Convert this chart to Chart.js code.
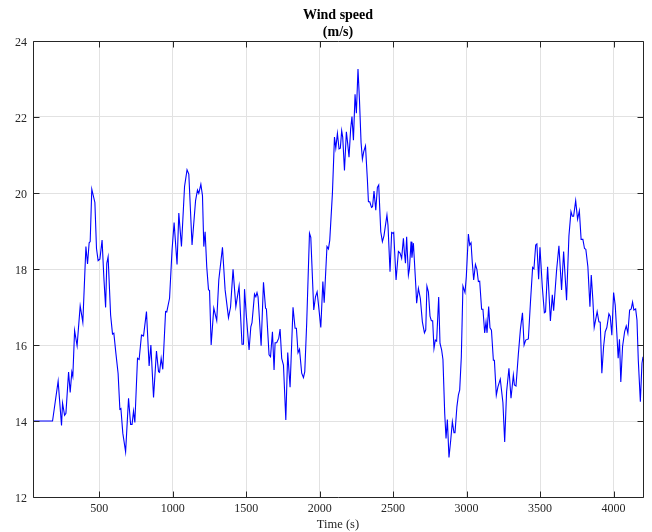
<!DOCTYPE html>
<html>
<head>
<meta charset="utf-8">
<script src="https://cdn.jsdelivr.net/npm/chart.js@4.4.0/dist/chart.umd.min.js"></script>
<style>
  body { margin: 0; background: #fff; }
  #wrap { width: 652px; height: 532px; }
</style>
</head>
<body>
<div id="wrap"><canvas id="windChart"></canvas></div>
<script>
// temps (s) et vitesse du vent (m/s)
const timeS = [
  50, 183, 221, 244, 251, 265, 274, 292, 303, 314,
  321, 333, 350, 371, 389, 410, 421, 432, 439, 450,
  471, 482, 493, 505, 520, 532, 544, 552, 561, 578,
  591, 600, 614, 629, 641, 648, 661, 680, 700, 714,
  724, 734, 743, 761, 772, 788, 802, 822, 840, 852,
  870, 890, 904, 911, 922, 933, 952, 960, 979, 996,
  1010, 1030, 1042, 1060, 1081, 1098, 1110, 1132, 1156, 1169,
  1178, 1192, 1203, 1212, 1221, 1232, 1244, 1251, 1262, 1280,
  1300, 1314, 1339, 1357, 1380, 1394, 1411, 1430, 1452, 1472,
  1482, 1489, 1502, 1520, 1532, 1540, 1557, 1566, 1574, 1581,
  1602, 1618, 1632, 1638, 1656, 1666, 1679, 1690, 1697, 1708,
  1722, 1731, 1742, 1754, 1770, 1783, 1799, 1819, 1833, 1842,
  1853, 1863, 1878, 1890, 1899, 1912, 1931, 1940, 1960, 1972,
  1983, 1990, 2008, 2022, 2031, 2050, 2060, 2069, 2087, 2101,
  2110, 2121, 2132, 2141, 2150, 2157, 2169, 2182, 2191, 2200,
  2211, 2220, 2230, 2241, 2250, 2261, 2271, 2282, 2291, 2300,
  2312, 2325, 2332, 2341, 2353, 2360, 2370, 2382, 2393, 2402,
  2416, 2427, 2438, 2458, 2465, 2479, 2490, 2499, 2504, 2520,
  2536, 2547, 2558, 2570, 2577, 2584, 2592, 2604, 2611, 2622,
  2628, 2638, 2654, 2660, 2672, 2685, 2699, 2713, 2722, 2730,
  2740, 2751, 2760, 2769, 2778, 2787, 2796, 2810, 2819, 2830,
  2839, 2851, 2860, 2869, 2880, 2892, 2903, 2914, 2921, 2934,
  2944, 2953, 2964, 2975, 2989, 2998, 3012, 3021, 3030, 3039,
  3048, 3060, 3070, 3080, 3089, 3102, 3111, 3123, 3132, 3139,
  3150, 3159, 3169, 3182, 3189, 3202, 3213, 3229, 3247, 3259,
  3272, 3288, 3302, 3318, 3325, 3336, 3352, 3366, 3380, 3391,
  3402, 3420, 3434, 3449, 3458, 3470, 3478, 3490, 3499, 3515,
  3529, 3537, 3551, 3570, 3583, 3592, 3612, 3628, 3646, 3660,
  3680, 3696, 3710, 3719, 3728, 3742, 3755, 3767, 3779, 3791,
  3802, 3811, 3825, 3839, 3848, 3859, 3868, 3888, 3900, 3909,
  3920, 3932, 3943, 3954, 3968, 3977, 3988, 4000, 4011, 4022,
  4031, 4040, 4049, 4061, 4075, 4086, 4097, 4109, 4120, 4129,
  4138, 4150, 4159, 4168, 4182, 4193, 4200
];
const windSpeed = [
  14.0, 14.0, 15.05, 13.88, 14.47, 14.15, 14.2, 15.29, 14.75, 15.29,
  15.17, 16.38, 15.98, 17.03, 16.6, 18.59, 18.13, 18.69, 18.72, 20.1,
  19.75, 18.54, 18.22, 18.26, 18.76, 17.78, 16.99, 18.15, 18.32, 16.79,
  16.29, 16.31, 15.78, 15.25, 14.31, 14.33, 13.68, 13.19, 14.6, 13.91,
  13.91, 14.26, 13.96, 15.65, 15.62, 16.26, 16.24, 16.88, 15.45, 16.0,
  14.62, 15.84, 15.3, 15.28, 15.65, 15.36, 16.88, 16.87, 17.23, 18.5,
  19.22, 18.12, 19.47, 18.59, 20.17, 20.61, 20.5, 18.63, 19.8, 20.08,
  19.99, 20.23, 19.93, 18.59, 18.98, 18.06, 17.45, 17.44, 16.0, 16.97,
  16.64, 17.71, 18.57, 17.45, 16.72, 17.0, 17.99, 17.01, 17.55, 16.02,
  16.02, 17.47, 16.74, 15.87, 16.48, 16.59, 17.34, 17.27, 17.38, 17.27,
  15.98, 17.65, 16.97, 16.95, 15.74, 15.69, 16.35, 15.34, 16.06, 16.06,
  16.18, 16.42, 15.65, 15.47, 14.03, 15.8, 14.89, 16.99, 16.44, 16.44,
  15.8, 15.89, 15.26, 15.14, 15.3, 16.57, 18.94, 18.83, 16.92, 17.27,
  17.4, 17.14, 16.46, 17.67, 17.11, 18.59, 18.53, 18.76, 19.99, 21.47,
  21.18, 21.57, 21.16, 21.18, 21.64, 21.47, 20.59, 21.61, 21.3, 20.94,
  21.68, 22.01, 21.39, 22.6, 22.1, 23.26, 22.45, 21.32, 20.89, 21.09,
  21.24, 20.34, 19.77, 19.77, 19.62, 19.64, 20.05, 19.55, 20.15, 20.21,
  18.98, 18.72, 18.88, 19.42, 19.16, 17.93, 18.96, 18.94, 18.96, 17.71,
  18.46, 18.42, 18.28, 18.81, 18.42, 18.15, 18.85, 17.84, 18.0, 18.72,
  18.3, 18.68, 17.58, 17.1, 17.49, 17.23, 16.61, 16.32, 16.4, 17.55,
  17.4, 16.76, 16.64, 16.64, 15.91, 16.13, 16.1, 17.26, 16.04, 15.87,
  15.62, 14.2, 13.54, 14.04, 13.04, 13.5, 13.98, 13.69, 13.69, 14.38,
  14.68, 14.82, 15.69, 17.55, 17.38, 17.8, 18.92, 18.63, 18.69, 18.15,
  17.71, 18.12, 17.99, 17.67, 17.68, 16.94, 16.94, 16.32, 16.61, 16.32,
  17.01, 16.45, 16.39, 15.6, 15.6, 14.68, 14.9, 15.1, 14.48, 13.45,
  14.77, 15.39, 14.6, 15.21, 14.95, 14.92, 15.76, 16.41, 16.85, 16.0,
  16.13, 16.16, 17.1, 18.04, 18.0, 18.63, 18.66, 17.73, 18.57, 17.53,
  16.85, 16.87, 18.06, 16.63, 17.32, 16.9, 17.96, 18.61, 17.45, 18.46,
  17.18, 18.87, 19.51, 19.39, 19.39, 19.8, 19.31, 19.53, 18.78, 18.78,
  18.54, 18.52, 18.06, 17.01, 17.84, 17.18, 16.46, 16.88, 16.61, 16.6,
  15.26, 15.96, 16.35, 16.46, 16.82, 16.75, 16.26, 17.38, 17.05, 16.31,
  15.65, 16.15, 15.03, 15.96, 16.35, 16.5, 16.31, 16.92, 16.95, 17.13,
  16.92, 16.95, 16.66, 15.6, 14.51, 15.52, 15.69
];

const xTicks = [500, 1000, 1500, 2000, 2500, 3000, 3500, 4000];
const yTicks = [12, 14, 16, 18, 20, 22, 24];

const axisColor = '#262626';
Chart.defaults.font.family = '"Liberation Serif", "Times New Roman", serif';
Chart.defaults.color = axisColor;

// cadre + graduations vers l'intérieur, comme MATLAB
const boxPlugin = {
    id: 'boxAxes',
    afterDraw(chart) {
        const ctx = chart.ctx;
        const a = chart.chartArea;
        const sx = chart.scales.x;
        const sy = chart.scales.y;
        const L = Math.round(a.left) + 0.5, R = Math.round(a.right) + 0.5;
        const T = Math.round(a.top) + 0.5, B = Math.round(a.bottom) + 0.5;
        ctx.save();
        ctx.strokeStyle = axisColor;
        ctx.lineWidth = 1;
        ctx.beginPath();
        xTicks.forEach(v => {
            const px = Math.round(sx.getPixelForValue(v)) + 0.5;
            ctx.moveTo(px, B); ctx.lineTo(px, B - 6);
            ctx.moveTo(px, T); ctx.lineTo(px, T + 6);
        });
        yTicks.forEach(v => {
            const py = Math.round(sy.getPixelForValue(v)) + 0.5;
            ctx.moveTo(L, py); ctx.lineTo(L + 6, py);
            ctx.moveTo(R, py); ctx.lineTo(R - 6, py);
        });
        ctx.rect(L, T, R - L, B - T);
        ctx.stroke();
        ctx.restore();
    }
};

const points = timeS.map((t, i) => ({ x: t, y: windSpeed[i] }));

const ctx = document.getElementById('windChart').getContext('2d');
new Chart(ctx, {
    type: 'line',
    data: {
        datasets: [{
            data: points,
            borderColor: '#0000ff',
            borderWidth: 1.1,
            pointRadius: 0,
            tension: 0,
            fill: false
        }]
    },
    options: {
        responsive: true,
        maintainAspectRatio: false,
        animation: false,
        layout: {
            padding: { left: 0, right: 9, top: 0, bottom: 0 }
        },
        plugins: {
            legend: { display: false },
            tooltip: { enabled: false },
            title: {
                display: true,
                fullSize: false,
                text: ['Wind speed', '(m/s)'],
                color: '#000',
                font: { size: 14, weight: 'bold', lineHeight: 1.2 },
                padding: { top: 7, bottom: 0.4 }
            }
        },
        scales: {
            x: {
                type: 'linear',
                min: 50,
                max: 4200,
                afterBuildTicks: s => { s.ticks = xTicks.map(v => ({ value: v })); },
                afterFit: s => { s.height = 35; },
                grid: { color: '#e2e2e2', drawTicks: false },
                border: { display: false },
                ticks: {
                    padding: 5,
                    font: { size: 12 },
                    maxRotation: 0,
                    autoSkip: false,
                    callback: v => String(v)
                },
                title: { display: true, text: 'Time (s)', font: { size: 12.5 }, padding: 0 }
            },
            y: {
                min: 12,
                max: 24,
                afterBuildTicks: s => { s.ticks = yTicks.map(v => ({ value: v })); },
                afterFit: s => { s.width = 33; },
                grid: { color: '#e2e2e2', drawTicks: false },
                border: { display: false },
                ticks: { padding: 6, labelOffset: 1.5, font: { size: 12 }, callback: v => String(v) }
            }
        }
    },
    plugins: [boxPlugin]
});
</script>
</body>
</html>
